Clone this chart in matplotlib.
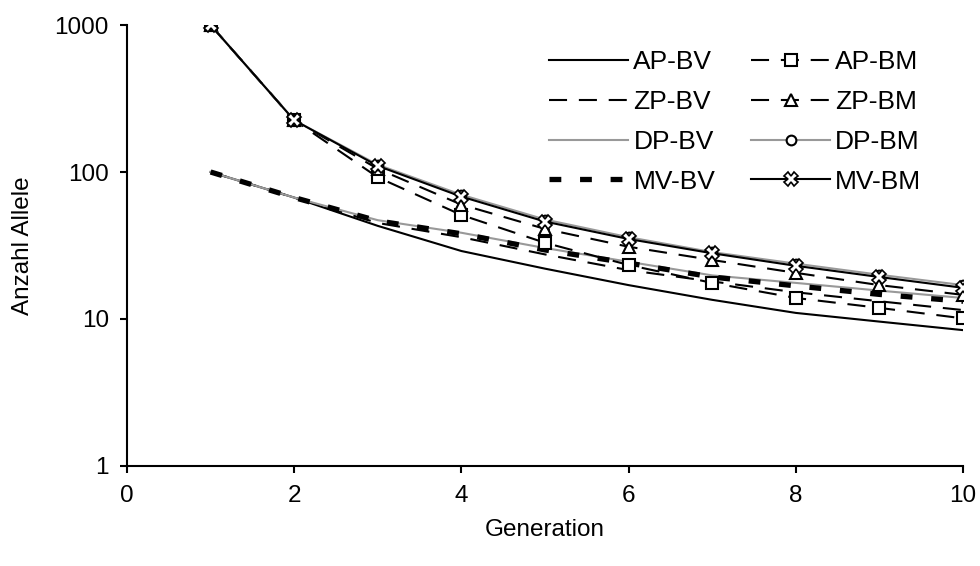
import matplotlib
matplotlib.use('Agg')
from matplotlib import pyplot as plt

plt.rcParams['font.family'] = ['Liberation Sans', 'DejaVu Sans']
plt.rcParams['lines.scale_dashes'] = False

generation = [1, 2, 3, 4, 5, 6, 7, 8, 9, 10]

ap_bv = [100, 67, 43, 29, 22, 17, 13.5, 11, 9.6, 8.4]
zp_bv = [100, 67, 45, 36, 27.5, 21.5, 18, 15.2, 13.2, 11.5]
dp_bv = [100, 67, 47, 38.6, 30.4, 24.5, 19.8, 17.6, 15.6, 13.9]
mv_bv = [100, 67, 46.5, 38, 29.5, 24, 19.3, 16.8, 14.7, 13.2]

ap_bm = [1000, 225, 92, 51, 33, 23.3, 17.6, 13.9, 11.9, 10.1]
zp_bm = [1000, 225, 105, 60, 41, 31, 25.2, 20.6, 17, 14.6]
dp_bm = [1000, 225, 112, 70, 47.5, 36, 28.5, 23.8, 20, 17]
mv_bm = [1000, 225, 110, 68, 46, 35, 28, 23, 19.3, 16.3]

grau = '#999999'
fs = 17.5

fig = plt.figure(figsize=(9.8, 5.66), dpi=100)
ax = fig.add_axes([0.1296, 0.1767, 0.8531, 0.7791])

strich = (0, (13, 8.5))

# BV Reihen (ohne Marker)
l1, = ax.plot(generation, ap_bv, color='black', lw=1.5, label='AP-BV')
l2, = ax.plot(generation, zp_bv, color='black', lw=1.5, ls=strich, label='ZP-BV')
l3, = ax.plot(generation, dp_bv, color=grau, lw=1.5, label='DP-BV')
l4, = ax.plot(generation, mv_bv, color='black', lw=3.8, ls=(0, (8.5, 13.5)), label='MV-BV')

# BM Reihen (mit Marker)
l5, = ax.plot(generation, ap_bm, color='black', lw=1.5, ls=strich, marker='s',
              ms=8, mfc='white', mec='black', mew=1.5, label='AP-BM')
l6, = ax.plot(generation, zp_bm, color='black', lw=1.5, ls=strich, marker='^',
              ms=8, mfc='white', mec='black', mew=1.5, label='ZP-BM')
l7, = ax.plot(generation, dp_bm, color=grau, lw=1.5, marker='o',
              ms=7, mfc='white', mec='black', mew=1.5, label='DP-BM')
l8, = ax.plot(generation, mv_bm, color='black', lw=1.5, marker='X',
              ms=9.5, mfc='white', mec='black', mew=1.2, label='MV-BM')

ax.set_yscale('log')
ax.set_xlim(0, 10)
ax.set_ylim(1, 1000)
ax.set_xticks([0, 2, 4, 6, 8, 10])
ax.set_yticks([1, 10, 100, 1000])
ax.set_yticklabels(['1', '10', '100', '1000'])
ax.minorticks_off()

for s in ['top', 'right']:
    ax.spines[s].set_visible(False)
for s in ['left', 'bottom']:
    ax.spines[s].set_linewidth(1.5)

ax.tick_params(axis='both', direction='out', length=5, width=1.5, labelsize=fs)
ax.tick_params(axis='y', pad=8)
ax.tick_params(axis='x', pad=9)

ax.set_xlabel('Generation', fontsize=fs, labelpad=8)
ax.set_ylabel('Anzahl Allele', fontsize=fs, labelpad=15)

ax.legend(handles=[l1, l2, l3, l4, l5, l6, l7, l8], ncol=2, frameon=False,
          loc='upper left', bbox_to_anchor=(0.505, 0.943), fontsize=19,
          borderpad=0, borderaxespad=0,
          handlelength=3.0, handletextpad=0.19, columnspacing=1.36, labelspacing=0.6)

fig.savefig('out.png', dpi=100)
